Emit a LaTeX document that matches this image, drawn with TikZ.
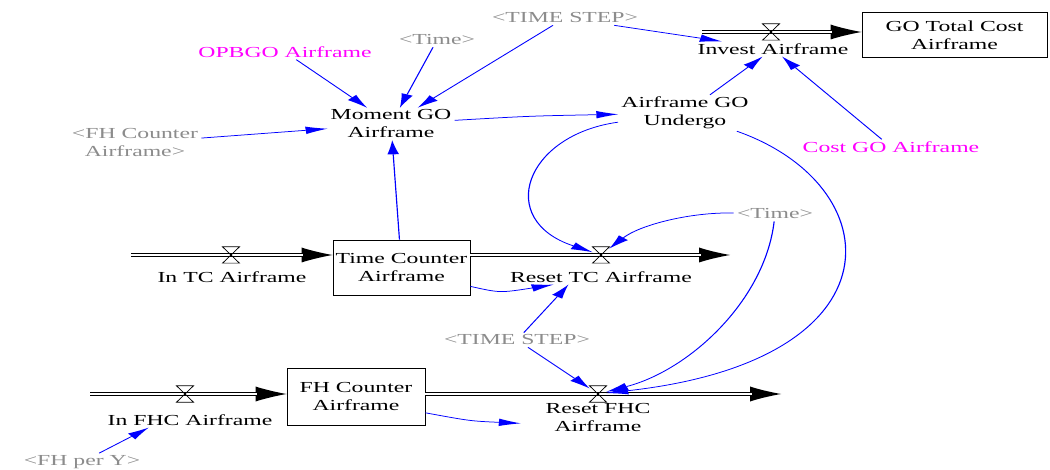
\documentclass[tikz,border=0pt]{standalone}
\usepackage{fontspec}
\setmainfont{Liberation Serif}
\usetikzlibrary{arrows.meta}
\definecolor{linkblue}{RGB}{0,0,255}
\definecolor{shadowgray}{RGB}{140,140,140}
\definecolor{auxmagenta}{RGB}{255,0,255}

\begin{document}
\begin{tikzpicture}[x=1pt, y=-1pt]
\useasboundingbox[fill=white] (0,0) rectangle (1050,470);
% Everything is drawn in a horizontally stretched frame; x units are
% chosen so that coordinates below are final page positions.
\begin{scope}[transform canvas={xscale=1.55}, x=0.64516pt, y=-1pt,
  lbl/.style={font=\fontsize{15.3}{18}\selectfont, align=center, inner sep=2pt},
  shadow/.style={lbl, text=shadowgray},
  const/.style={lbl, text=auxmagenta},
  stock/.style={draw=black, line width=0.6pt, font=\fontsize{15.3}{18}\selectfont,
                align=center, inner sep=0pt},
  valve/.style={inner sep=0pt, minimum width=10.5pt, minimum height=16pt},
  valveline/.style={black, line width=0.6pt},
  pipeouter/.style={black, line width=3.4pt,
                    -{Latex[length=20pt,width=15pt,line width=0pt]}},
  pipeinner/.style={white, line width=2pt, shorten >=19pt},
  link/.style={linkblue, line width=0.75pt,
               -{Latex[length=14pt,width=7.5pt,line width=0pt]}}
]

% stocks
\node[stock, minimum width=88.4pt, minimum height=55pt] (tc) at (401.5,267.5) {Time Counter\\Airframe};
\node[stock, minimum width=89pt, minimum height=57pt] (fhc) at (356,396.5) {FH Counter\\Airframe};
\node[stock, minimum width=119.4pt, minimum height=45pt] (gotc) at (954.5,35) {GO Total Cost\\Airframe};

% free ends of the flow pipes
\coordinate (srcinv) at (702,32);
\coordinate (srctc) at (131,255);
\coordinate (sinktc) at (730,255);
\coordinate (srcfhc) at (90,394);
\coordinate (sinkfhc) at (781,394);

% flow pipes (double line with a solid head)
\draw[pipeouter] (srcinv) -- (srcinv -| gotc.west);
\draw[pipeinner] (srcinv) -- (srcinv -| gotc.west);
\draw[pipeouter] (srctc) -- (srctc -| tc.west);
\draw[pipeinner] (srctc) -- (srctc -| tc.west);
\draw[pipeouter] (srctc -| tc.east) -- (sinktc);
\draw[pipeinner] (srctc -| tc.east) -- (sinktc);
\draw[pipeouter] (srcfhc) -- (srcfhc -| fhc.west);
\draw[pipeinner] (srcfhc) -- (srcfhc -| fhc.west);
\draw[pipeouter] (srcfhc -| fhc.east) -- (sinkfhc);
\draw[pipeinner] (srcfhc -| fhc.east) -- (sinkfhc);

% valves
\node[valve] (vinv) at (771,32) {};
\node[valve] (vintc) at (231,255) {};
\node[valve] (vrtc) at (601,255) {};
\node[valve] (vinfhc) at (185,394) {};
\node[valve] (vrfhc) at (598,394) {};
\foreach \v in {vinv,vintc,vrtc,vinfhc,vrfhc}
  \draw[valveline] (\v.north west) -- (\v.north east) -- (\v.south west)
                   -- (\v.south east) -- cycle;

% flow names
\node[lbl] (invl) at (773,49) {Invest Airframe};
\node[lbl] (intcl) at (232,277) {In TC Airframe};
\node[lbl] (rtcl) at (601,277) {Reset TC Airframe};
\node[lbl] (infhcl) at (190,420) {In FHC Airframe};
\node[lbl] (rfhcl) at (598,418) {Reset FHC\\Airframe};

% auxiliaries, constants and shadow variables
\node[shadow] (tstep1) at (565,18) {<TIME STEP>};
\node[const] (opbgo) at (285,52) {OPBGO Airframe};
\node[shadow] (time1) at (437,40) {<Time>};
\node[lbl] (moment) at (391,124) {Moment GO\\Airframe};
\node[shadow] (fhcs) at (135,143) {<FH Counter\\Airframe>};
\node[lbl] (undergo) at (685,113) {Airframe GO\\Undergo};
\node[const] (costgo) at (891,147) {Cost GO Airframe};
\node[shadow] (time2) at (775,214) {<Time>};
\node[shadow] (tstep2) at (517,340) {<TIME STEP>};
\node[shadow] (fhpy) at (82,462) {<FH per Y>};

% causal links
\draw[link] (tstep1) -- (invl);
\draw[link] (tstep1) -- (moment);
\draw[link] (opbgo) -- (moment);
\draw[link] (time1) -- (moment);
\draw[link] (fhcs) -- (moment);
\draw[link] (tc) -- (moment);
\draw[link] (moment) .. controls (530,116) .. (undergo);
\draw[link] (undergo) -- (invl);
\draw[link] (costgo) -- (invl);
\draw[link] (undergo) .. controls (525,135) and (495,220) .. (vrtc);
\draw[link] (time2) .. controls (690,212) and (640,225) .. (vrtc);
\draw[link] (time2) .. controls (765,300) and (690,370) .. (vrfhc);
\draw[link] (undergo) .. controls (890,185) and (905,360) .. (vrfhc);
\draw[link] (tc.-23) .. controls (500,293) .. (rtcl.194);
\draw[link] (tstep2) -- (rtcl.200);
\draw[link] (tstep2) -- (vrfhc);
\draw[link, shorten >=14pt] (fhc.-20) .. controls (470,421) .. (rfhcl.190);
\draw[link] (fhpy) -- (infhcl.196);
\end{scope}
\end{tikzpicture}
\end{document}
